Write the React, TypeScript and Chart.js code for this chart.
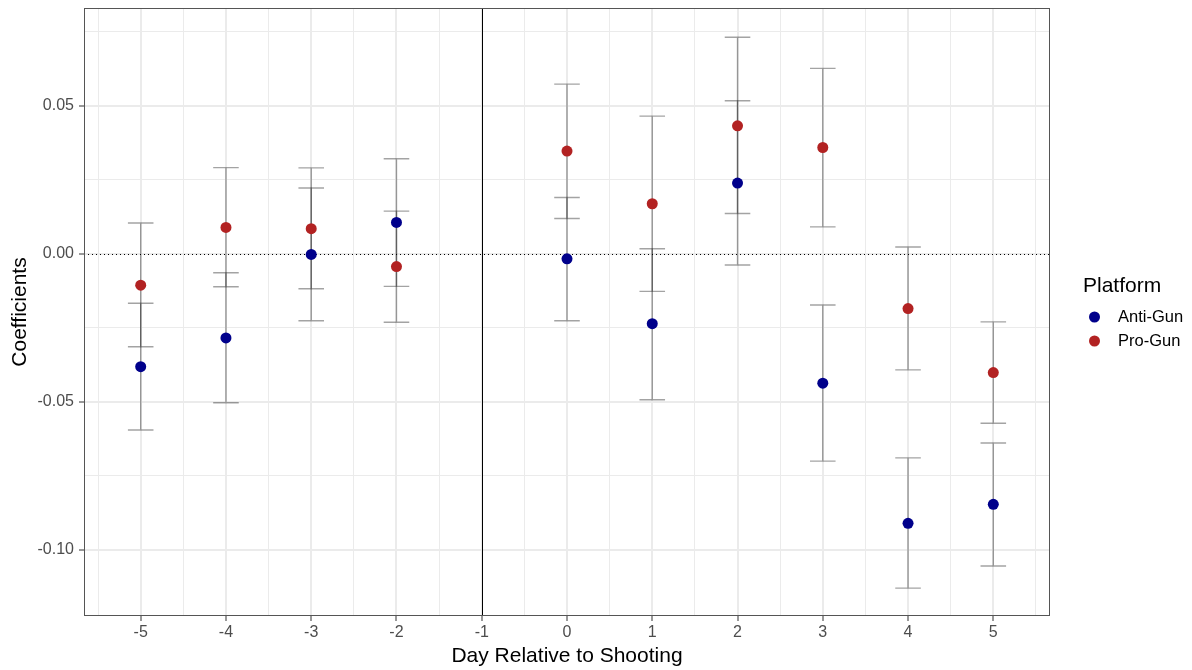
import React, { useEffect, useRef } from 'react';
import { Chart, registerables } from 'chart.js';

Chart.register(...registerables);

const days = [-5, -4, -3, -2, 0, 1, 2, 3, 4, 5];
const antiCoef = [-0.0381, -0.0284, -0.0002, 0.0106, -0.0017, -0.0236, 0.0239, -0.0437, -0.0910, -0.0846];
const antiLower = [-0.0595, -0.0503, -0.0226, -0.0110, -0.0226, -0.0493, -0.0038, -0.0700, -0.1129, -0.1054];
const antiUpper = [-0.0167, -0.0064, 0.0222, 0.0321, 0.0190, 0.0017, 0.0517, -0.0173, -0.0689, -0.0639];
const proCoef = [-0.0106, 0.0089, 0.0085, -0.0043, 0.0347, 0.0169, 0.0432, 0.0359, -0.0185, -0.0401];
const proLower = [-0.0314, -0.0111, -0.0118, -0.0231, 0.0119, -0.0127, 0.0136, 0.0091, -0.0392, -0.0572];
const proUpper = [0.0104, 0.0291, 0.0290, 0.0144, 0.0573, 0.0465, 0.0731, 0.0626, 0.0023, -0.0230];
const seriesNames = ['Anti-Gun', 'Pro-Gun'];
const seriesColors = ['#00008B', '#B22222'];
const legendTitle = 'Platform';
const xTitle = 'Day Relative to Shooting';
const yTitle = 'Coefficients';
const eventDay = -1;

const FONT = "'Liberation Sans', Arial, Helvetica, sans-serif";

const isMajorX = (v: number | undefined) => v !== undefined && Math.abs(v - Math.round(v)) < 1e-6;
const isMajorY = (v: number | undefined) => v !== undefined && Math.abs(v / 0.05 - Math.round(v / 0.05)) < 1e-6;

const errorBars = [
  { lower: antiLower, upper: antiUpper },
  { lower: proLower, upper: proUpper },
];

const refLinesPlugin = {
  id: 'refLines',
  beforeDatasetsDraw(chart: any) {
    const { ctx, chartArea, scales } = chart;
    const xs = scales.x;
    const ys = scales.y;
    ctx.save();
    ctx.beginPath();
    ctx.rect(chartArea.left, chartArea.top, chartArea.right - chartArea.left, chartArea.bottom - chartArea.top);
    ctx.clip();
    // dotted zero line
    const y0 = Math.round(ys.getPixelForValue(0)) + 0.5;
    ctx.strokeStyle = '#000000';
    ctx.lineWidth = 1;
    ctx.setLineDash([1, 3]);
    ctx.beginPath();
    ctx.moveTo(chartArea.left, y0);
    ctx.lineTo(chartArea.right, y0);
    ctx.stroke();
    ctx.setLineDash([]);
    // vertical event line
    const xv = Math.round(xs.getPixelForValue(eventDay)) + 0.5;
    ctx.beginPath();
    ctx.moveTo(xv, chartArea.top);
    ctx.lineTo(xv, chartArea.bottom);
    ctx.stroke();
    // error bars
    const half = Math.abs(xs.getPixelForValue(0.15) - xs.getPixelForValue(0));
    ctx.strokeStyle = 'rgba(0,0,0,0.36)';
    ctx.lineWidth = 1.4;
    errorBars.forEach((eb) => {
      days.forEach((d, i) => {
        const x = xs.getPixelForValue(d);
        const yl = ys.getPixelForValue(eb.lower[i]);
        const yu = ys.getPixelForValue(eb.upper[i]);
        ctx.beginPath();
        ctx.moveTo(x - half, yu);
        ctx.lineTo(x + half, yu);
        ctx.moveTo(x, yu);
        ctx.lineTo(x, yl);
        ctx.moveTo(x - half, yl);
        ctx.lineTo(x + half, yl);
        ctx.stroke();
      });
    });
    ctx.restore();
  },
  afterDatasetsDraw(chart: any) {
    const { ctx, chartArea } = chart;
    ctx.save();
    ctx.strokeStyle = '#555555';
    ctx.lineWidth = 1;
    ctx.strokeRect(
      Math.round(chartArea.left) + 0.5,
      Math.round(chartArea.top) + 0.5,
      Math.round(chartArea.right - chartArea.left) - 1,
      Math.round(chartArea.bottom - chartArea.top) - 1
    );
    ctx.restore();
  },
  afterDraw(chart: any) {
    const { ctx, chartArea } = chart;
    const lx = chartArea.right + 33;
    ctx.save();
    ctx.fillStyle = '#000000';
    ctx.font = `21px ${FONT}`;
    ctx.textAlign = 'left';
    ctx.textBaseline = 'alphabetic';
    ctx.fillText(legendTitle, lx, 292);
    ctx.font = `16.5px ${FONT}`;
    ctx.textBaseline = 'middle';
    seriesNames.forEach((name, i) => {
      const cy = 317 + i * 24;
      ctx.fillStyle = seriesColors[i];
      ctx.beginPath();
      ctx.arc(lx + 11.5, cy, 5.5, 0, Math.PI * 2);
      ctx.fill();
      ctx.fillStyle = '#000000';
      ctx.fillText(name, lx + 35, cy + 0.5);
    });
    ctx.restore();
  },
};

export default function App() {
  const ref = useRef<HTMLCanvasElement>(null);
  useEffect(() => {
    if (!ref.current) return;
    const chart = new Chart(ref.current, {
      type: 'scatter',
      data: {
        datasets: [
          {
            label: seriesNames[0],
            data: days.map((d, i) => ({ x: d, y: antiCoef[i] })),
            backgroundColor: seriesColors[0],
            borderColor: seriesColors[0],
            pointRadius: 5.5,
            pointBorderWidth: 0,
          },
          {
            label: seriesNames[1],
            data: days.map((d, i) => ({ x: d, y: proCoef[i] })),
            backgroundColor: seriesColors[1],
            borderColor: seriesColors[1],
            pointRadius: 5.5,
            pointBorderWidth: 0,
          },
        ],
      },
      options: {
        animation: false,
        responsive: false,
        devicePixelRatio: 1,
        layout: { padding: { left: 0, right: 142, top: 8, bottom: 0 } },
        plugins: {
          legend: { display: false },
          tooltip: { enabled: false },
        },
        scales: {
          x: {
            type: 'linear',
            min: -5.665,
            max: 5.665,
            afterFit: (s: any) => {
              s.height = 54;
              s.paddingLeft = 0;
              s.paddingRight = 0;
            },
            border: { display: false },
            grid: {
              color: '#EBEBEB',
              lineWidth: (c: any) => (isMajorX(c.tick?.value) ? 2 : 1),
              tickColor: (c: any) => (isMajorX(c.tick?.value) ? '#333333' : 'rgba(0,0,0,0)'),
              tickLength: 5,
              tickWidth: 1,
            },
            ticks: {
              stepSize: 0.5,
              includeBounds: false,
              autoSkip: false,
              maxRotation: 0,
              minRotation: 0,
              padding: 2,
              color: '#4D4D4D',
              font: { family: FONT, size: 16 },
              callback: (v: any) => (isMajorX(v) ? String(Math.round(v)) : ''),
            },
            title: {
              display: true,
              text: xTitle,
              color: '#000000',
              font: { family: FONT, size: 21 },
              padding: { top: 0, bottom: 1 },
            },
          },
          y: {
            type: 'linear',
            min: -0.1223,
            max: 0.0830,
            afterFit: (s: any) => {
              s.width = 84;
              s.paddingTop = 0;
              s.paddingBottom = 0;
            },
            border: { display: false },
            grid: {
              color: '#EBEBEB',
              lineWidth: (c: any) => (isMajorY(c.tick?.value) ? 2 : 1),
              tickColor: (c: any) => (isMajorY(c.tick?.value) ? '#333333' : 'rgba(0,0,0,0)'),
              tickLength: 5,
              tickWidth: 1,
            },
            ticks: {
              stepSize: 0.025,
              includeBounds: false,
              autoSkip: false,
              padding: 5,
              color: '#4D4D4D',
              font: { family: FONT, size: 16 },
              callback: (v: any) => (isMajorY(v) ? Number(v).toFixed(2).replace('-0.00', '0.00') : ''),
            },
            title: {
              display: true,
              text: yTitle,
              color: '#000000',
              font: { family: FONT, size: 21 },
              padding: { top: 8, bottom: 0 },
            },
          },
        },
      },
      plugins: [refLinesPlugin],
    } as any);
    return () => chart.destroy();
  }, []);
  return (
    <div style={{ position: 'fixed', left: 0, top: 0, width: 1192, height: 670, background: '#ffffff' }}>
      <canvas ref={ref} width={1192} height={670} style={{ width: 1192, height: 670, display: 'block' }} />
    </div>
  );
}
